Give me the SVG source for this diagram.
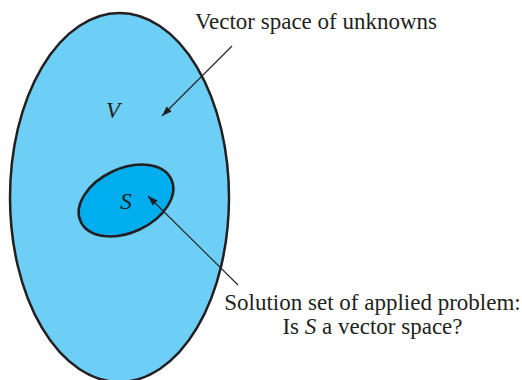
<svg xmlns="http://www.w3.org/2000/svg" width="522" height="380" viewBox="0 0 522 380">
<defs>
<style>
.lbl{font-family:'Liberation Serif','DejaVu Serif',serif;font-size:23px;fill:#231F20}
.var{font-family:'Liberation Serif','DejaVu Serif',serif;font-size:23px;font-style:italic;fill:#231F20}
.conn{stroke:#231F20;stroke-width:1.1;fill:none}
</style>
<marker id="ah" viewBox="0 0 10 10" refX="10" refY="5" markerWidth="10" markerHeight="10" markerUnits="userSpaceOnUse" orient="auto">
<path d="M0,1.5 L10,5 L0,8.5 Z" fill="#231F20"/>
</marker>
</defs>
<rect width="522" height="380" fill="#ffffff"/>
<g id="V">
<ellipse cx="119.5" cy="197.5" rx="109.5" ry="184.5" fill="#6DCFF6" stroke="#231F20" stroke-width="2.5"/>
<text class="var" x="113" y="118" text-anchor="middle">V</text>
</g>
<g id="S">
<ellipse cx="126" cy="200.5" rx="50" ry="32" transform="rotate(-25 126 200.5)" fill="#00AEEF" stroke="#231F20" stroke-width="2.5"/>
<text class="var" x="126" y="209" text-anchor="middle">S</text>
</g>
<g id="label-V">
<text class="lbl" x="316" y="29" text-anchor="middle">Vector space of unknowns</text>
</g>
<g id="label-S">
<text class="lbl" x="372.5" y="310" text-anchor="middle">Solution set of applied problem:</text>
<text class="lbl" x="372.5" y="334" text-anchor="middle">Is <tspan font-style="italic">S</tspan> a vector space?</text>
</g>
<g id="connectors">
<line class="conn" x1="232" y1="46" x2="162" y2="116" marker-end="url(#ah)"/>
<line class="conn" x1="238" y1="285" x2="148" y2="196" marker-end="url(#ah)"/>
</g>
</svg>
